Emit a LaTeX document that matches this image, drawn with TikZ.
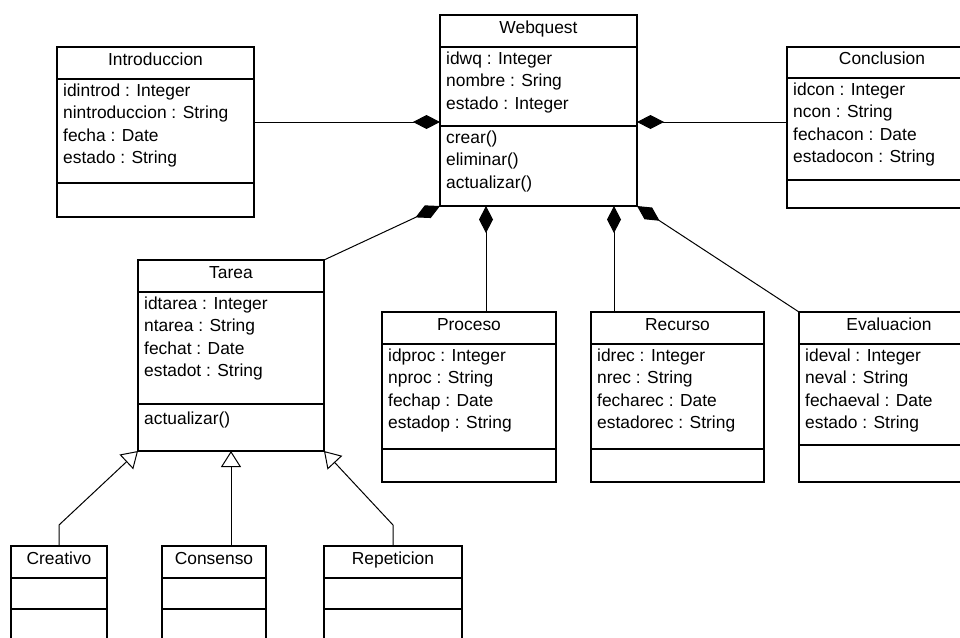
\documentclass[tikz,border=0pt]{standalone}
\usepackage{fontspec}
\setmainfont{Liberation Sans}
\usetikzlibrary{positioning, arrows.meta}

\tikzset{
  part/.style={draw, line width=1.3pt, fill=white, inner sep=0pt, outer sep=0pt, anchor=north west},
  head/.style={part, text height=12pt, text depth=8pt},
  rows/.style={anchor=north west, inner sep=0pt, align=left, execute at begin node=\strut},
  comp/.style={-{Diamond[length=27pt, width=14pt]}, line width=1pt},
  gen/.style={-{Triangle[length=16pt, width=20pt, fill=white]}, line width=1pt},
}

\begin{document}
\begin{tikzpicture}[x=1pt, y=-1pt, font=\fontsize{17.4}{22.6}\selectfont]
        \useasboundingbox (0, 0) rectangle (960, 637);
        \clip (0, 0) rectangle (960, 637);

        % Webquest
        \node[head, minimum width=197pt, minimum height=32pt] (web) at (440, 15) {Webquest};
        \node[part, minimum width=197pt, minimum height=79pt, below=0pt of web] (webA) {};
        \node[part, minimum width=197pt, minimum height=80pt, below=0pt of webA] (webM) {};
        \node[rows] (webAT) at ([shift={(6, 4.2)}]webA.north west) {idwq : Integer\\nombre : Sring\\estado : Integer};
        \node[rows] (webMT) at ([shift={(6, 4.2)}]webM.north west) {crear()\\eliminar()\\actualizar()};

        % Introduccion
        \node[head, minimum width=197pt, minimum height=32pt] (intro) at (57, 47) {Introduccion};
        \node[part, minimum width=197pt, minimum height=104pt, below=0pt of intro] (introA) {};
        \node[part, minimum width=197pt, minimum height=34pt, below=0pt of introA] (introM) {};
        \node[rows] (introAT) at ([shift={(6, 4.2)}]introA.north west) {idintrod : Integer\\nintroduccion : String\\fecha : Date\\estado : String};

        % Conclusion
        \node[head, minimum width=190pt, minimum height=31pt] (conc) at (787, 47) {Conclusion};
        \node[part, minimum width=190pt, minimum height=102pt, below=0pt of conc] (concA) {};
        \node[part, minimum width=190pt, minimum height=28pt, below=0pt of concA] (concM) {};
        \node[rows] (concAT) at ([shift={(6, 4.2)}]concA.north west) {idcon : Integer\\ncon : String\\fechacon : Date\\estadocon : String};

        % Tarea
        \node[head, minimum width=186pt, minimum height=32pt] (tarea) at (138, 260) {Tarea};
        \node[part, minimum width=186pt, minimum height=112pt, below=0pt of tarea] (tareaA) {};
        \node[part, minimum width=186pt, minimum height=47pt, below=0pt of tareaA] (tareaM) {};
        \node[rows] (tareaAT) at ([shift={(6, 4.2)}]tareaA.north west) {idtarea : Integer\\ntarea : String\\fechat : Date\\estadot : String};
        \node[rows] (tareaMT) at ([shift={(6, 4.2)}]tareaM.north west) {actualizar()};

        % Proceso
        \node[head, minimum width=174pt, minimum height=32pt] (proc) at (382, 312) {Proceso};
        \node[part, minimum width=174pt, minimum height=105pt, below=0pt of proc] (procA) {};
        \node[part, minimum width=174pt, minimum height=33pt, below=0pt of procA] (procM) {};
        \node[rows] (procAT) at ([shift={(6, 4.2)}]procA.north west) {idproc : Integer\\nproc : String\\fechap : Date\\estadop : String};

        % Recurso
        \node[head, minimum width=173pt, minimum height=32pt] (rec) at (591, 312) {Recurso};
        \node[part, minimum width=173pt, minimum height=105pt, below=0pt of rec] (recA) {};
        \node[part, minimum width=173pt, minimum height=33pt, below=0pt of recA] (recM) {};
        \node[rows] (recAT) at ([shift={(6, 4.2)}]recA.north west) {idrec : Integer\\nrec : String\\fecharec : Date\\estadorec : String};

        % Evaluacion
        \node[head, minimum width=180pt, minimum height=32pt] (eval) at (799, 312) {Evaluacion};
        \node[part, minimum width=180pt, minimum height=101pt, below=0pt of eval] (evalA) {};
        \node[part, minimum width=180pt, minimum height=37pt, below=0pt of evalA] (evalM) {};
        \node[rows] (evalAT) at ([shift={(6, 4.2)}]evalA.north west) {ideval : Integer\\neval : String\\fechaeval : Date\\estado : String};

        % subclases de Tarea
        \node[head, minimum width=96pt, minimum height=32pt] (creat) at (11, 546) {Creativo};
        \node[part, minimum width=96pt, minimum height=31pt, below=0pt of creat] (creatA) {};
        \node[part, minimum width=96pt, minimum height=40pt, below=0pt of creatA] (creatM) {};
        \node[head, minimum width=104pt, minimum height=32pt] (cons) at (162, 546) {Consenso};
        \node[part, minimum width=104pt, minimum height=31pt, below=0pt of cons] (consA) {};
        \node[part, minimum width=104pt, minimum height=40pt, below=0pt of consA] (consM) {};
        \node[head, minimum width=138pt, minimum height=32pt] (repe) at (324, 546) {Repeticion};
        \node[part, minimum width=138pt, minimum height=31pt, below=0pt of repe] (repeA) {};
        \node[part, minimum width=138pt, minimum height=40pt, below=0pt of repeA] (repeM) {};

        % composiciones
        \coordinate (wl) at ([yshift=4pt]webA.south west);
        \coordinate (wr) at ([yshift=4pt]webA.south east);
        \coordinate (procTop) at ([xshift=17pt]proc.north);
        \coordinate (recTop) at ([xshift=-63.5pt]rec.north);
        \draw[comp] (introA.east |- wl) -- (wl);
        \draw[comp] (concA.west |- wr) -- (wr);
        \draw[comp] (tarea.north east) -- (webM.south west);
        \draw[comp] (procTop) -- (procTop |- webM.south);
        \draw[comp] (recTop) -- (recTop |- webM.south);
        \draw[comp] (eval.north west) -- (webM.south east);

        % herencia
        \draw[gen] (creat.north) -- ++(0, -21) -- (tareaM.south west);
        \draw[gen] (tareaM.south |- cons.north) -- (tareaM.south);
        \draw[gen] (repe.north) -- ++(0, -21) -- (tareaM.south east);
\end{tikzpicture}
\end{document}
